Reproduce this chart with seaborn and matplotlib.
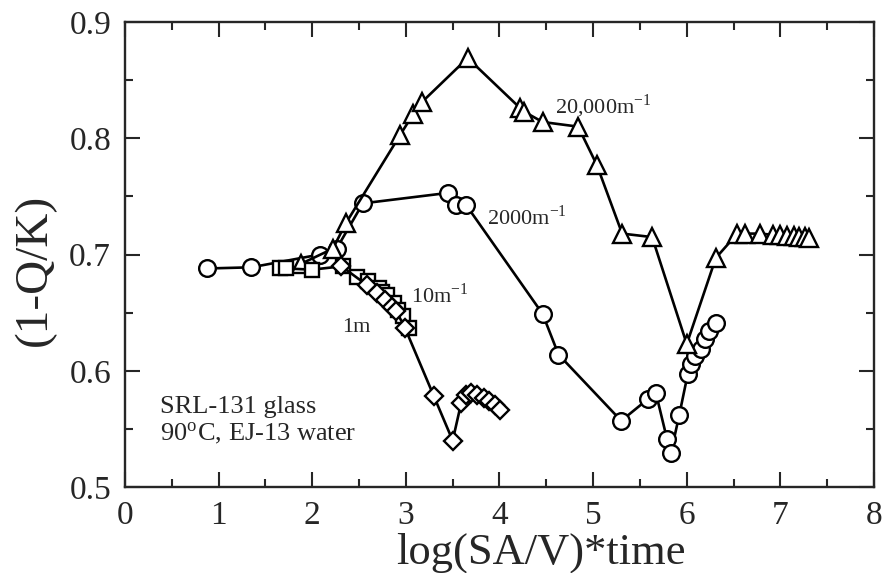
import numpy as np
import pandas as pd
import matplotlib
matplotlib.use("Agg")
import matplotlib.pyplot as plt
import seaborn as sns

# 2000 m^-1 (circles)
x_2000 = [0.88, 1.35, 2.08, 2.26, 2.54, 3.45, 3.54, 3.64, 4.46, 4.63, 5.30, 5.59, 5.67,
          5.79, 5.83, 5.92, 6.01, 6.04, 6.09, 6.15, 6.19, 6.24, 6.31]
y_2000 = [0.688, 0.689, 0.700, 0.705, 0.744, 0.753, 0.743, 0.743, 0.649, 0.614, 0.557, 0.576, 0.581,
          0.541, 0.529, 0.562, 0.597, 0.606, 0.613, 0.619, 0.627, 0.634, 0.641]

# 20,000 m^-1 (triangles)
x_20000 = [1.88, 2.22, 2.36, 2.94, 3.08, 3.17, 3.66, 4.22, 4.26, 4.46, 4.84, 5.04, 5.31, 5.63,
           6.00, 6.31, 6.54, 6.62, 6.78, 6.92, 7.00, 7.07, 7.14, 7.20, 7.26, 7.31]
y_20000 = [0.692, 0.705, 0.727, 0.803, 0.821, 0.831, 0.869, 0.826, 0.823, 0.814, 0.810, 0.777, 0.718, 0.715,
           0.623, 0.697, 0.718, 0.718, 0.718, 0.717, 0.717, 0.716, 0.716, 0.715, 0.715, 0.714]

# 10 m^-1 (squares)
x_10 = [1.66, 1.72, 2.00, 2.33, 2.48, 2.60, 2.71, 2.74, 2.80, 2.87, 2.92, 2.97, 3.03]
y_10 = [0.688, 0.688, 0.687, 0.690, 0.681, 0.677, 0.671, 0.668, 0.665, 0.658, 0.652, 0.647, 0.637]

# 1 m^-1 (diamonds)
x_1 = [2.31, 2.58, 2.69, 2.78, 2.85, 2.90, 2.99, 3.30, 3.50, 3.59, 3.64, 3.70, 3.76, 3.83, 3.89, 3.95, 4.01]
y_1 = [0.690, 0.674, 0.667, 0.661, 0.655, 0.651, 0.637, 0.578, 0.540, 0.572, 0.579, 0.581, 0.579, 0.577,
       0.574, 0.571, 0.566]

x_ticks = [0, 1, 2, 3, 4, 5, 6, 7, 8]
y_ticks = [0.5, 0.6, 0.7, 0.8, 0.9]

sns.set_style("ticks")
plt.rcParams["font.family"] = ["Liberation Serif", "DejaVu Serif"]
plt.rcParams["mathtext.fontset"] = "stix"

fig = plt.figure(figsize=(8.85, 5.73), dpi=100)
ax = fig.add_axes([0.1412, 0.150, 0.8464, 0.8116])

series = [
    (x_2000, y_2000, "o", 12),
    (x_20000, y_20000, "^", 13),
    (x_10, y_10, "s", 10.5),
    (x_1, y_1, "D", 9),
]
for xs, ys, mk, ms in series:
    df = pd.DataFrame({"x": xs, "y": ys})
    sns.lineplot(data=df, x="x", y="y", ax=ax, sort=False, estimator=None,
                 color="black", linewidth=1.9, marker=mk, markersize=ms,
                 markerfacecolor="white", markeredgecolor="black",
                 markeredgewidth=1.7)

ax.set_xlim(0, 8)
ax.set_ylim(0.5, 0.9)
ax.set_xticks(x_ticks)
ax.set_yticks(y_ticks)
ax.set_xticklabels([str(t) for t in x_ticks])
ax.set_yticklabels([f"{t:.1f}" for t in y_ticks])
ax.set_xticks(np.arange(0.5, 8, 1.0), minor=True)
ax.set_yticks(np.arange(0.55, 0.9, 0.1), minor=True)
ax.tick_params(which="both", direction="in", top=True, right=True, width=1.5, labelsize=24)
ax.tick_params(axis="x", which="major", pad=10)
ax.tick_params(axis="y", which="major", pad=10)
ax.tick_params(which="major", length=11)
ax.tick_params(which="minor", length=6)
for s in ax.spines.values():
    s.set_linewidth(1.7)
    s.set_visible(True)

ax.set_xlabel("log(SA/V)*time", fontsize=32)
ax.set_ylabel("(1-Q/K)", fontsize=34)
ax.xaxis.set_label_coords(0.555, -0.098)
ax.yaxis.set_label_coords(-0.092, 0.467)

fs = 16
ax.text(4.59, 0.827, r"20,000m$^{\mathregular{-1}}$", fontsize=fs, va="center", ha="left")
ax.text(3.87, 0.732, r"2000m$^{\mathregular{-1}}$", fontsize=fs, va="center", ha="left")
ax.text(3.05, 0.665, r"10m$^{\mathregular{-1}}$", fontsize=fs, va="center", ha="left")
ax.text(2.32, 0.637, "1m", fontsize=fs, va="center", ha="left")
ax.text(0.37, 0.569, "SRL-131 glass", fontsize=19, va="center", ha="left")
ax.text(0.37, 0.546, r"90$^{\mathregular{o}}$C, EJ-13 water", fontsize=19, va="center", ha="left")

fig.savefig("out.png", dpi=100)
